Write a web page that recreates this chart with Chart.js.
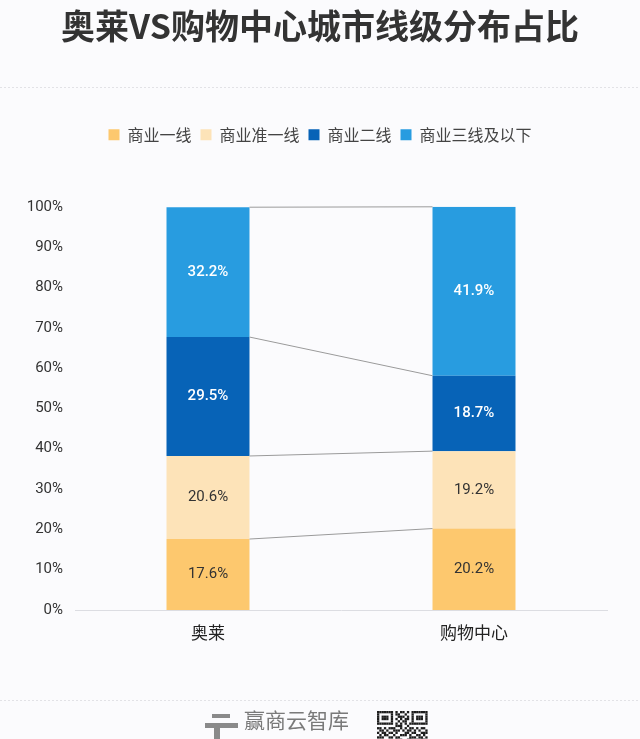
<!DOCTYPE html>
<html>
<head>
<meta charset="utf-8">
<script src="https://cdn.jsdelivr.net/npm/chart.js@4.4.1/dist/chart.umd.min.js"></script>
<style>
  html, body { margin: 0; padding: 0; background: #fbfbfd; }
  #wrap { position: relative; width: 640px; height: 739px; }
</style>
</head>
<body>
<div id="wrap"><canvas id="c" width="640" height="739"></canvas></div>
<script>
// ---- data ----
const titleText = '奥莱VS购物中心城市线级分布占比';
const categories = ['奥莱', '购物中心'];
const seriesNames = ['商业一线', '商业准一线', '商业二线', '商业三线及以下'];
const tier1 = [17.6, 20.2];
const tier1b = [20.6, 19.2];
const tier2 = [29.5, 18.7];
const tier3 = [32.2, 41.9];
const yTickValues = [0, 10, 20, 30, 40, 50, 60, 70, 80, 90, 100];
const footerText = '赢商云智库';

const seriesValues = [tier1, tier1b, tier2, tier3];
const seriesColors = ['#fdc86e', '#fde3b8', '#0763b7', '#289ce0'];
const labelColors = ['#333333', '#333333', '#ffffff', '#ffffff'];
const labelWeights = ['400', '400', '500', '500'];

const CJK = "'Noto Sans CJK SC', 'Noto Sans', sans-serif";
const NUM = "Roboto, 'Noto Sans CJK SC', sans-serif";

const legendSpacer = {
  id: 'legendSpacer',
  beforeInit(chart) {
    const lg = chart.legend;
    if (!lg) return;
    const f = lg.fit;
    lg.fit = function () { f.call(this); this.height += 54; };
  },
  afterLayout(chart) {
    // center title and legend on the full canvas width
    [chart.titleBlock, chart.legend].forEach(b => {
      if (!b) return;
      b.left = 0; b.right = chart.width; b.width = chart.width;
    });
  }
};

const connectors = {
  id: 'connectors',
  afterDatasetsDraw(chart) {
    const ctx = chart.ctx;
    ctx.save();
    ctx.strokeStyle = '#9a9a9a';
    ctx.lineWidth = 1;
    chart.data.datasets.forEach((ds, i) => {
      const meta = chart.getDatasetMeta(i);
      const a = meta.data[0], b = meta.data[1];
      if (!a || !b) return;
      ctx.beginPath();
      ctx.moveTo(a.x + a.width / 2, a.y);
      ctx.lineTo(b.x - b.width / 2, b.y);
      ctx.stroke();
    });
    ctx.restore();
  }
};

const barLabels = {
  id: 'barLabels',
  afterDatasetsDraw(chart) {
    const ctx = chart.ctx;
    ctx.save();
    ctx.textAlign = 'center';
    ctx.textBaseline = 'middle';
    chart.data.datasets.forEach((ds, i) => {
      const meta = chart.getDatasetMeta(i);
      meta.data.forEach((el, j) => {
        ctx.fillStyle = labelColors[i];
        ctx.font = labelWeights[i] + ' 15px ' + NUM;
        ctx.fillText(ds.data[j].toFixed(1) + '%', el.x, (el.y + el.base) / 2);
      });
    });
    ctx.restore();
  }
};

const qrRows = [
  '1111111010110101111111',
  '1000001011001001000001',
  '1011101001110101011101',
  '1011101010101101011101',
  '1000001001011001000001',
  '1111111010101011111111',
  '0000000011100100000000',
  '1101011100101011010110',
  '0110100111010110101001',
  '1011011010001101100111',
  '0101100100111010011010',
  '1110011011000011101101',
  '0000000010100110010110',
  '1111111001110011010011',
  '1000001010001100011101',
  '1011101001000011101010'
];

const decor = {
  id: 'decor',
  afterDraw(chart) {
    const ctx = chart.ctx;
    ctx.save();
    ctx.strokeStyle = '#e2e2e6';
    ctx.lineWidth = 1;
    ctx.setLineDash([2, 2]);
    ctx.beginPath(); ctx.moveTo(0, 87.5); ctx.lineTo(640, 87.5); ctx.stroke();
    ctx.beginPath(); ctx.moveTo(0, 700.5); ctx.lineTo(640, 700.5); ctx.stroke();
    ctx.setLineDash([]);
    // logo
    ctx.fillStyle = '#8a8a8a';
    ctx.fillRect(212, 714, 18, 4);
    ctx.fillRect(205, 723, 33, 5);
    ctx.fillRect(214, 728, 6, 11);
    // footer text
    ctx.fillStyle = '#7a7a7a';
    ctx.font = '400 21px ' + CJK;
    ctx.textAlign = 'left';
    ctx.textBaseline = 'middle';
    ctx.fillText(footerText, 244, 720);
    // QR-like mark
    const qx = 377, qy = 711, cs = 2.3;
    ctx.fillStyle = '#1d1d1d';
    qrRows.forEach((row, r) => {
      for (let c = 0; c < row.length; c++) {
        if (row[c] === '1') ctx.fillRect(qx + c * cs, qy + r * cs, cs, cs);
      }
    });
    ctx.fillStyle = '#2a8fd0';
    ctx.beginPath();
    ctx.moveTo(qx + 20, qy + 33); ctx.lineTo(qx + 25, qy + 28); ctx.lineTo(qx + 30, qy + 33);
    ctx.closePath(); ctx.fill();
    ctx.restore();
  }
};

new Chart(document.getElementById('c'), {
  type: 'bar',
  data: {
    labels: categories,
    datasets: seriesNames.map((name, i) => ({
      label: name,
      data: seriesValues[i],
      backgroundColor: seriesColors[i],
      borderWidth: 0,
      barPercentage: 0.312,
      categoryPercentage: 1.0
    }))
  },
  options: {
    responsive: false,
    animation: false,
    devicePixelRatio: 1,
    layout: { padding: { left: 0, right: 33, top: 0, bottom: 94 } },
    plugins: {
      title: {
        display: true,
        text: titleText,
        color: '#333333',
        font: { family: CJK, size: 34, weight: 'bold', lineHeight: 1.2 },
        padding: { top: 6, bottom: 71 }
      },
      legend: {
        display: true,
        position: 'top',
        labels: {
          color: '#444444',
          font: { family: CJK, size: 16 },
          boxWidth: 11,
          boxHeight: 11,
          padding: 9
        }
      },
      tooltip: { enabled: false }
    },
    scales: {
      x: {
        stacked: true,
        grid: { display: false, drawTicks: false },
        border: { display: true, color: '#dcdde2', width: 1 },
        ticks: { color: '#222222', font: { family: CJK, size: 17 }, padding: 12 },
        afterFit(scale) { scale.height = 35; }
      },
      y: {
        stacked: true,
        min: 0,
        max: 100,
        grid: { display: false, drawTicks: false },
        border: { display: false },
        afterBuildTicks(scale) { scale.ticks = yTickValues.map(v => ({ value: v })); },
        ticks: {
          color: '#333333',
          font: { family: NUM, size: 15 },
          padding: 12,
          callback: (v) => v + '%'
        },
        afterFit(scale) { scale.width = 75; }
      }
    }
  },
  plugins: [legendSpacer, connectors, barLabels, decor]
});
</script>
</body>
</html>
